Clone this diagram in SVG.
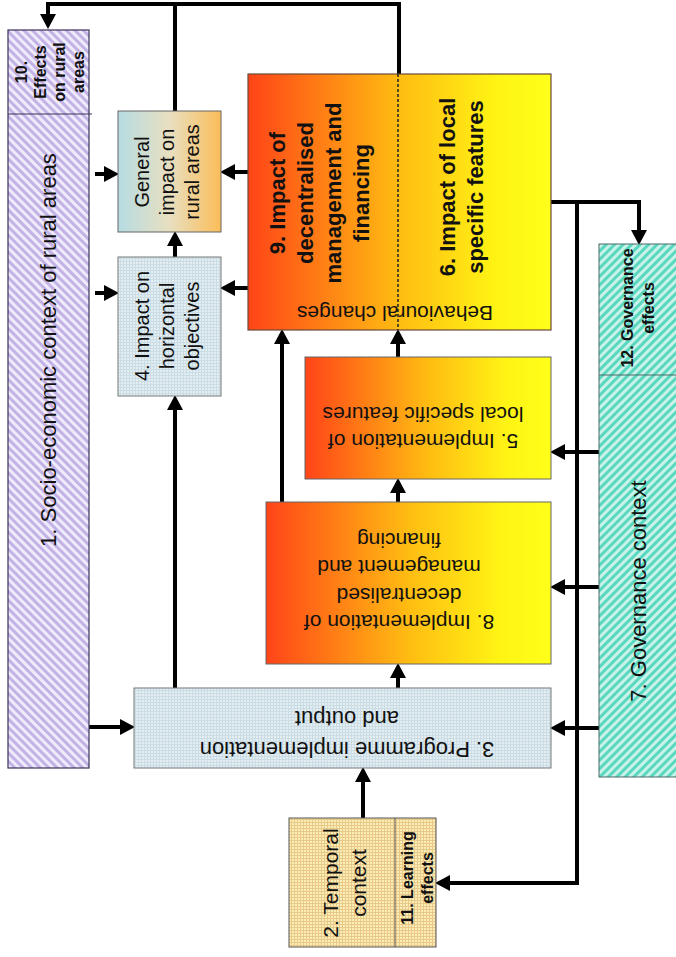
<svg xmlns="http://www.w3.org/2000/svg" width="676" height="957" viewBox="0 0 676 957">
<defs>
<style>
text{font-family:"Liberation Sans",Arial,sans-serif;fill:#111;}
.b{font-weight:bold;}
.c{stroke:#000;stroke-width:4;fill:none;stroke-linejoin:miter;}
.ca{stroke:#000;stroke-width:4;fill:none;marker-end:url(#arr);}
</style>
<marker id="arr" markerWidth="16" markerHeight="16" refX="4" refY="8" orient="auto" markerUnits="userSpaceOnUse"><path d="M0,0 L15,8 L0,16 z" fill="#000"/></marker>
<pattern id="hPurple" width="6" height="6" patternUnits="userSpaceOnUse" patternTransform="rotate(-45)"><rect width="6" height="6" fill="#f0ebfa"/><rect width="3" height="6" fill="#c2b2e6"/></pattern>
<pattern id="hTeal" width="6" height="6" patternUnits="userSpaceOnUse" patternTransform="rotate(45)"><rect width="6" height="6" fill="#c9f3ea"/><rect width="3" height="6" fill="#5ad8bf"/></pattern>
<pattern id="gBlue" width="3" height="3" patternUnits="userSpaceOnUse"><rect width="3" height="3" fill="#e4eef2"/><path d="M0,0.5H3M0.5,0V3" stroke="#cadde4" stroke-width="1"/></pattern>
<pattern id="gYel" width="3" height="3" patternUnits="userSpaceOnUse"><rect width="3" height="3" fill="#faedb6"/><path d="M0,0.5H3M0.5,0V3" stroke="#e9c98a" stroke-width="1"/></pattern>
<linearGradient id="gOr" x1="0" y1="0" x2="1" y2="0"><stop offset="0" stop-color="#ff4418"/><stop offset="0.5" stop-color="#ffbc12"/><stop offset="0.82" stop-color="#fff414"/><stop offset="1" stop-color="#ffff1a"/></linearGradient>
<linearGradient id="gGen" x1="0" y1="0" x2="1" y2="0"><stop offset="0" stop-color="#b6dce3"/><stop offset="0.5" stop-color="#e8dfc0"/><stop offset="1" stop-color="#fbbd58"/></linearGradient>
</defs>

<g id="connectors">
<path class="c" d="M175,111 V2"/>
<path class="ca" d="M399,74 V4 H48 V18"/>
<path class="ca" d="M95,174 H108"/>
<path class="ca" d="M95,293 H108"/>
<path class="ca" d="M175,257 V242"/>
<path class="ca" d="M248,172 H231"/>
<path class="ca" d="M248,288 H231"/>
<path class="ca" d="M175,688 V406"/>
<path class="ca" d="M282,502 V340"/>
<path class="ca" d="M398,357 V340"/>
<path class="ca" d="M398,502 V489"/>
<path class="ca" d="M398,688 V674"/>
<path class="ca" d="M551,202 H639 V234"/>
<path class="ca" d="M577,202 V883 H446"/>
<path class="ca" d="M599,452 H561"/>
<path class="ca" d="M599,587 H561"/>
<path class="ca" d="M599,728 H561"/>
<path class="ca" d="M89,727 H124"/>
<path class="ca" d="M363,818 V778"/>
</g>

<g id="n1">
<rect x="8" y="30" width="81" height="738" fill="url(#hPurple)" stroke="#3a3258" stroke-width="1.2"/>
<line x1="8" y1="114" x2="92" y2="114" stroke="#3a3258" stroke-width="1.2"/>
<text transform="translate(56,350) rotate(-90)" text-anchor="middle" font-size="22">1. Socio-economic context of rural areas</text>
</g>
<g id="n10">
<text class="b" transform="translate(0,72) rotate(-90)" text-anchor="middle" font-size="16"><tspan x="0" y="27">10.</tspan><tspan x="0" y="46">Effects</tspan><tspan x="0" y="65">on rural</tspan><tspan x="0" y="84">areas</tspan></text>
</g>

<g id="nGeneral">
<rect x="118" y="111" width="103" height="121" fill="url(#gGen)" stroke="#666" stroke-width="1"/>
<text transform="translate(0,172) rotate(-90)" text-anchor="middle" font-size="20"><tspan x="0" y="149">General</tspan><tspan x="0" y="174">impact on</tspan><tspan x="0" y="199">rural areas</tspan></text>
</g>

<g id="n4">
<rect x="118" y="257" width="103" height="139" fill="url(#gBlue)" stroke="#777" stroke-width="1"/>
<text transform="translate(0,326) rotate(-90)" text-anchor="middle" font-size="20"><tspan x="0" y="149">4. Impact on</tspan><tspan x="0" y="174">horizontal</tspan><tspan x="0" y="199">objectives</tspan></text>
</g>

<g id="n9-6">
<rect x="248" y="74" width="303" height="256" fill="url(#gOr)" stroke="#6b4a3a" stroke-width="1.2"/>
<line x1="398" y1="74" x2="398" y2="330" stroke="#222" stroke-width="1.5" stroke-dasharray="3,2"/>
<text class="b" transform="translate(0,193) rotate(-90)" text-anchor="middle" font-size="22"><tspan x="0" y="285">9. Impact of</tspan><tspan x="0" y="313">decentralised</tspan><tspan x="0" y="341">management and</tspan><tspan x="0" y="369">financing</tspan></text>
<text class="b" transform="translate(0,187) rotate(-90)" text-anchor="middle" font-size="22"><tspan x="0" y="455">6. Impact of local</tspan><tspan x="0" y="483">specific features</tspan></text>
<text transform="translate(395,306) rotate(180)" text-anchor="middle" font-size="21">Behavioural changes</text>
</g>

<g id="n5">
<rect x="305" y="357" width="246" height="122" fill="url(#gOr)" stroke="#666" stroke-width="1"/>
<text transform="translate(423,434) rotate(180)" text-anchor="middle" font-size="21"><tspan x="0" y="0">5. Implementation of</tspan><tspan x="0" y="27">local specific features</tspan></text>
</g>

<g id="n8">
<rect x="266" y="502" width="285" height="162" fill="url(#gOr)" stroke="#666" stroke-width="1"/>
<text transform="translate(399,615) rotate(180)" text-anchor="middle" font-size="21"><tspan x="0" y="0">8. Implementation of</tspan><tspan x="0" y="27.5">decentralised</tspan><tspan x="0" y="55">management and</tspan><tspan x="0" y="82.5">financing</tspan></text>
</g>

<g id="n3">
<rect x="134" y="688" width="417" height="80" fill="url(#gBlue)" stroke="#777" stroke-width="1"/>
<text transform="translate(347,742) rotate(180)" text-anchor="middle" font-size="22"><tspan x="0" y="0">3. Programme implementation</tspan><tspan x="0" y="31">and output</tspan></text>
</g>

<g id="n2">
<rect x="289" y="818" width="147" height="129" fill="url(#gYel)" stroke="#555" stroke-width="1"/>
<line x1="395" y1="818" x2="395" y2="947" stroke="#555" stroke-width="1"/>
<text transform="translate(0,883) rotate(-90)" text-anchor="middle" font-size="21"><tspan x="0" y="338">2. Temporal</tspan><tspan x="0" y="366">context</tspan></text>
</g>
<g id="n11">
<text class="b" transform="translate(0,878) rotate(-90)" text-anchor="middle" font-size="16"><tspan x="0" y="413">11. Learning</tspan><tspan x="0" y="433">effects</tspan></text>
</g>

<g id="n7">
<rect x="599" y="244" width="80" height="533" fill="url(#hTeal)" stroke="#4a6a66" stroke-width="1"/>
<line x1="599" y1="375" x2="676" y2="375" stroke="#4a6a66" stroke-width="1"/>
<text transform="translate(646,591) rotate(-90)" text-anchor="middle" font-size="22">7. Governance context</text>
</g>
<g id="n12">
<text class="b" transform="translate(0,308) rotate(-90)" text-anchor="middle" font-size="16"><tspan x="0" y="633">12. Governance</tspan><tspan x="0" y="654">effects</tspan></text>
</g>
</svg>
